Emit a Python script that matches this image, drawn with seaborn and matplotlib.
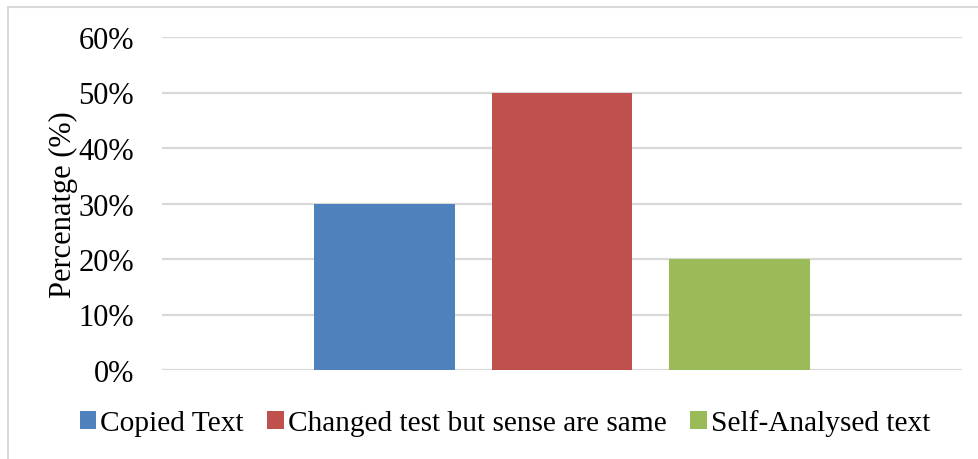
import pandas as pd
import matplotlib.pyplot as plt
import seaborn as sns
from matplotlib.lines import Line2D
from matplotlib.ticker import PercentFormatter

# values
series = ["Copied Text", "Changed test but sense are same", "Self-Analysed text"]
values = [0.30, 0.50, 0.20]
colors = ["#4F81BD", "#C0504D", "#9BBB59"]
yticks = [0.0, 0.1, 0.2, 0.3, 0.4, 0.5, 0.6]

df = pd.DataFrame({"group": ["all"] * len(series), "series": series, "value": values})

sns.set_theme(style="white")
plt.rcParams["font.family"] = ["Liberation Serif", "DejaVu Serif"]

fig = plt.figure(figsize=(9.79, 4.6), dpi=100)
ax = fig.add_axes([162 / 979, 1 - 371 / 460, 800 / 979, 333 / 460])

sns.barplot(
    data=df, x="group", y="value", hue="series",
    hue_order=series, palette=colors,
    width=0.666, gap=0.21, saturation=1, linewidth=0,
    ax=ax, zorder=3,
)

ax.set_xlim(-0.5, 0.5)
ax.set_ylim(0, 0.6)
ax.set_yticks(yticks)
ax.yaxis.set_major_formatter(PercentFormatter(1.0, decimals=0))
ax.tick_params(axis="y", labelsize=22, length=0, pad=20, colors="black")
ax.set_xticks([])
ax.set_xlabel("")
ax.set_ylabel("Percenatge (%)", fontsize=22, color="black")
ax.yaxis.set_label_coords(-0.105, 0.5)

ax.grid(axis="y", color="#d9d9d9", lw=1.6, zorder=0)
ax.grid(axis="x", visible=False)
for s in ax.spines.values():
    s.set_visible(False)

# legend along the bottom, Excel-style
handles, labels = ax.get_legend_handles_labels()
ax.legend_.remove()
fig.legend(
    handles, labels, loc="center", bbox_to_anchor=(505 / 979, 1 - 424 / 460),
    ncol=3, frameon=False, fontsize=21.2, handlelength=0.55, handleheight=0.55,
    handletextpad=0.15, columnspacing=0.8, labelcolor="black",
)

# chart-area border (left and top edges visible in the crop)
fig.add_artist(Line2D([8 / 979, 8 / 979], [0, 1 - 8 / 460], color="#d9d9d9", lw=1.5))
fig.add_artist(Line2D([8 / 979, 1], [1 - 8 / 460, 1 - 8 / 460], color="#d9d9d9", lw=1.5))

fig.savefig("out.png", dpi=100)
